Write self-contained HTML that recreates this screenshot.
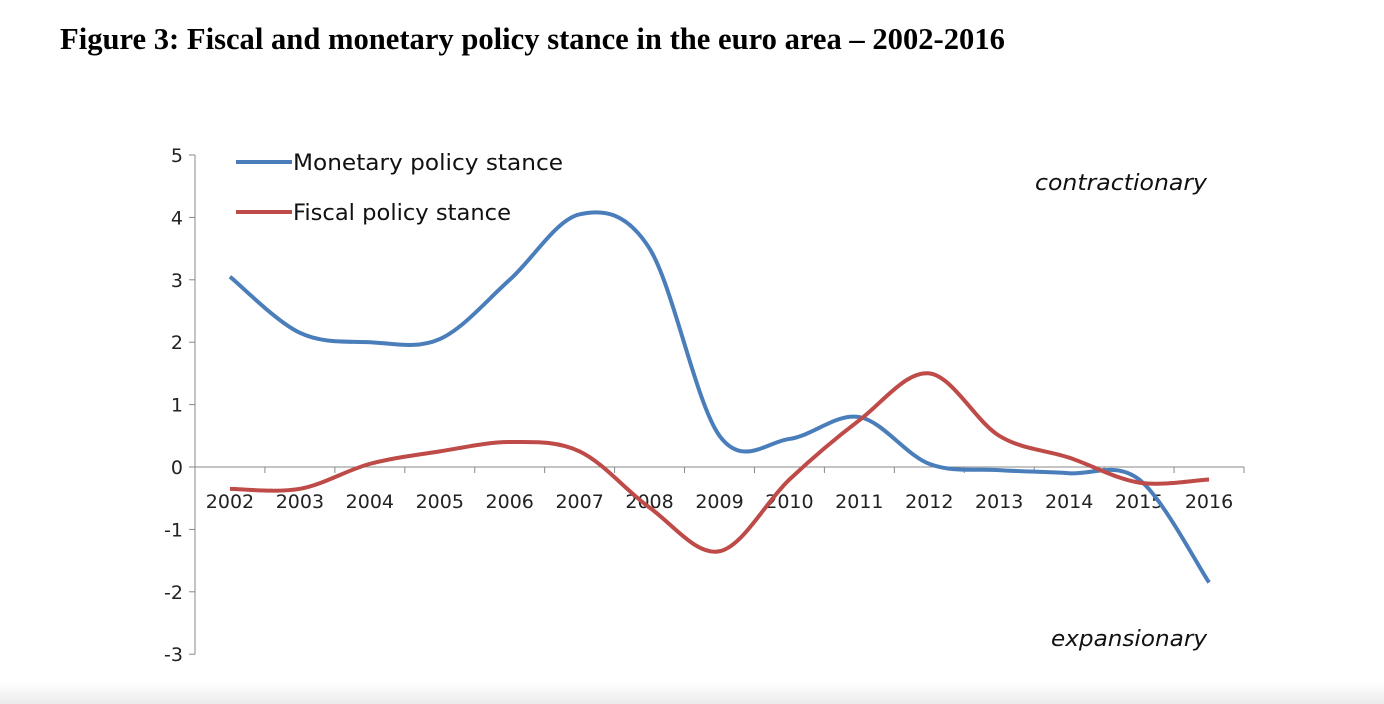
<!DOCTYPE html>
<html><head><meta charset="utf-8"><style>
body{margin:0;width:1384px;height:704px;background:#fff;overflow:hidden;position:relative}
h1{position:absolute;left:60px;top:22px;margin:0;font:bold 30.6px "Liberation Serif",serif;color:#000;white-space:nowrap}
.fade{position:absolute;left:0;top:682px;width:1384px;height:22px;background:linear-gradient(#fff,#ececec)}
</style></head><body>
<h1>Figure 3: Fiscal and monetary policy stance in the euro area – 2002-2016</h1>
<svg id="c" width="1384" height="704" style="position:absolute;left:0;top:0"></svg>
<div class="fade"></div>
<script>
const years=['2002','2003','2004','2005','2006','2007','2008','2009','2010','2011','2012','2013','2014','2015','2016'];
const monetary=[3.05,2.15,2.0,2.05,3.0,4.05,3.5,0.5,0.45,0.8,0.05,-0.05,-0.1,-0.2,-1.85];
const fiscal=[-0.35,-0.35,0.05,0.25,0.4,0.25,-0.65,-1.35,-0.2,0.75,1.5,0.5,0.15,-0.25,-0.2];
const yTicks=[5,4,3,2,1,0,-1,-2,-3];
const NS='http://www.w3.org/2000/svg';
const svg=document.getElementById('c');
const x0=195,x1=1244,step=(x1-x0)/15;
const X=i=>x0+step*(i+0.5);
const Y=v=>467-v*62.4;
function add(t,a,txt){const e=document.createElementNS(NS,t);for(const k in a)e.setAttribute(k,a[k]);if(txt!=null)e.textContent=txt;svg.appendChild(e);return e;}
const font='"DejaVu Sans","Liberation Sans",sans-serif';
let e=add('line',{x1:x0,y1:Y(5),x2:x0,y2:Y(-3),stroke:'#888','stroke-width':1});

yTicks.forEach(v=>{
 add('line',{x1:x0-6,y1:Y(v),x2:x0,y2:Y(v),stroke:'#888'});
 const t=add('text',{x:x0-12,y:Y(v)+7,'text-anchor':'end','font-family':font,'font-size':19,fill:'#222'},String(v));
 
});
e=add('line',{x1:x0,y1:Y(0),x2:x1,y2:Y(0),stroke:'#888'});

for(let i=0;i<=15;i++)add('line',{x1:x0+step*i,y1:Y(0),x2:x0+step*i,y2:Y(0)+6,stroke:'#888'});
years.forEach((y,i)=>{
 const t=add('text',{x:X(i),y:Y(0)+41,'text-anchor':'middle','font-family':font,'font-size':19,fill:'#222'},y);
 
});
function path(vals){
 const p=vals.map((v,i)=>[X(i),Y(v)]);let d='M'+p[0][0]+','+p[0][1];
 for(let i=0;i<p.length-1;i++){
  const a=p[Math.max(0,i-1)],b=p[i],c=p[i+1],dd=p[Math.min(p.length-1,i+2)];
  d+=' C'+(b[0]+(c[0]-a[0])/6)+','+(b[1]+(c[1]-a[1])/6)+' '+(c[0]-(dd[0]-b[0])/6)+','+(c[1]-(dd[1]-b[1])/6)+' '+c[0]+','+c[1];
 }return d;
}
e=add('path',{d:path(monetary),fill:'none',stroke:'#4a7ebb','stroke-width':4});

e=add('path',{d:path(fiscal),fill:'none',stroke:'#be4b48','stroke-width':4});

e=add('line',{x1:236,y1:162,x2:292,y2:162,stroke:'#4a7ebb','stroke-width':4});

e=add('text',{x:293,y:170,'font-family':font,'font-size':22,textLength:270,lengthAdjust:'spacingAndGlyphs',fill:'#111'},'Monetary policy stance');

e=add('line',{x1:236,y1:212,x2:292,y2:212,stroke:'#be4b48','stroke-width':4});

e=add('text',{x:293,y:220,'font-family':font,'font-size':22,textLength:218,lengthAdjust:'spacingAndGlyphs',fill:'#111'},'Fiscal policy stance');

e=add('text',{x:1035,y:190,'font-family':font,'font-size':22,'font-style':'italic',textLength:172,lengthAdjust:'spacingAndGlyphs',fill:'#111'},'contractionary');

e=add('text',{x:1051,y:646,'font-family':font,'font-size':22,'font-style':'italic',textLength:156,lengthAdjust:'spacingAndGlyphs',fill:'#111'},'expansionary');

</script>
</body></html>
